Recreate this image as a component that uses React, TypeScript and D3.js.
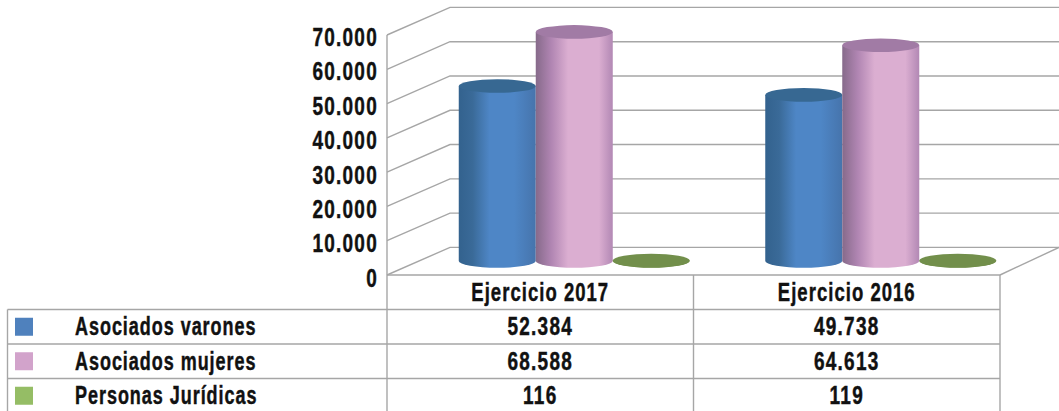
import React from "react";
import * as d3 from "d3";

const categories = ["Ejercicio 2017", "Ejercicio 2016"];
const seriesNames = ["Asociados varones", "Asociados mujeres", "Personas Jurídicas"];
const varones = [52384, 49738];
const mujeres = [68588, 64613];
const juridicas = [116, 119];
const series = [varones, mujeres, juridicas];
const swatches = ["#4F81BD", "#D2A3CB", "#95BD65"];
const tops = ["#376892", "#A17BA5", "#728F4B"];
const gradIds = ["gBlue", "gPink", "gGreen"];

const W = 1059, H = 411;
const depthX = 63, depthY = -27.6;
const font = "'Liberation Sans',sans-serif";
const fmt = d3.formatLocale({ decimal: ",", thousands: ".", grouping: [3], currency: ["", ""] }).format(",");

const yFront = d3.scaleLinear().domain([0, 70000]).range([275, 35]);
const yLabel = d3.scaleLinear().domain([0, 70000]).range([278, 37]);
const yCyl = d3.scaleLinear().domain([0, 70000]).range([261, 27.2]);
const xCat = d3.scaleBand<string>().domain(categories).range([387, 1000]);
const xSer = d3.scaleBand<number>().domain([0, 1, 2]).range([0, 231]);
const rowY = d3.scaleLinear().domain([0, 4]).range([275, 413]);
const rowLeft = 7.5;
const grid = "#A6A6A6";
const ry = 6.8;

function Txt({ x, y, dy, sx, ls, children, anchor }: any) {
  return (
    <text
      transform={`translate(${x},${y + dy}) scale(${sx},1)`}
      textAnchor={anchor}
      fontFamily={font}
      fontWeight={700}
      fontSize={25}
      fill="#111"
      stroke="#111"
      strokeWidth={0.45}
      letterSpacing={ls}
    >
      {children}
    </text>
  );
}

function Cylinder({ x, w, yTop, fill, top }: any) {
  const rx = w / 2;
  const yb = yCyl(0);
  const body = `M${x},${yTop}L${x},${yb}A${rx},${ry} 0 0 0 ${x + w},${yb}L${x + w},${yTop}Z`;
  return (
    <g>
      <path d={body} fill={fill} />
      <ellipse cx={x + rx} cy={yTop} rx={rx} ry={ry} fill={top} />
    </g>
  );
}

export default function App() {
  const ticks = yFront.ticks(7);
  const bw = xCat.bandwidth();
  return (
    <svg width={W} height={H} viewBox={`0 0 ${W} ${H}`} style={{ position: "absolute", left: 0, top: 0, display: "block", background: "#fff" }}>
      <defs>
        <linearGradient id="gBlue">
          <stop offset="0" stopColor="#33628E" />
          <stop offset="0.18" stopColor="#3A6A98" />
          <stop offset="0.4" stopColor="#4E86C6" />
          <stop offset="0.72" stopColor="#4E86C6" />
          <stop offset="1" stopColor="#4674AC" />
        </linearGradient>
        <linearGradient id="gPink">
          <stop offset="0" stopColor="#866A8A" />
          <stop offset="0.2" stopColor="#B085B2" />
          <stop offset="0.42" stopColor="#DBAED1" />
          <stop offset="0.82" stopColor="#DBAED1" />
          <stop offset="1" stopColor="#B288B4" />
        </linearGradient>
        <linearGradient id="gGreen">
          <stop offset="0" stopColor="#728F4B" />
          <stop offset="1" stopColor="#728F4B" />
        </linearGradient>
      </defs>

      {/* walls */}
      <g stroke={grid} strokeWidth={1.4} fill="none">
        {ticks.map((t) => {
          const yf = yFront(t);
          const yb = yf + depthY;
          return <path key={t} d={`M387,${yf}L${387 + depthX},${yb}L${W},${yb}`} />;
        })}
        <path d={`M1000,${yFront(0)}L${W},${yFront(0) + depthY}`} />
        <path d={`M387,${yFront(70000)}L387,${H}`} />
      </g>

      {/* cylinders */}
      {categories.map((c, i) => {
        const start = (xCat(c) as number) + bw / 2 - 115.5 + 34;
        return series.map((vals, s) => (
          <Cylinder
            key={c + s}
            x={start + (xSer(s) as number)}
            w={xSer.bandwidth()}
            yTop={yCyl(vals[i])}
            fill={`url(#${gradIds[s]})`}
            top={tops[s]}
          />
        ));
      })}

      {/* y tick labels */}
      {ticks.map((t) => (
        <Txt key={t} x={378} y={yLabel(t)} dy={8.8} sx={0.76} ls={1.65} anchor="end">{fmt(t)}</Txt>
      ))}

      {/* data table */}
      <g stroke={grid} strokeWidth={1.4} fill="none">
        <path d={`M387,${rowY(0)}L1000,${rowY(0)}`} />
        {[1, 2, 3, 4].map((r) => (
          <path key={r} d={`M${rowLeft},${rowY(r)}L1000,${rowY(r)}`} />
        ))}
        <path d={`M${rowLeft},${rowY(1)}L${rowLeft},${H}`} />
        {categories.map((c) => (
          <path key={c} d={`M${(xCat(c) as number) + bw},${rowY(0)}L${(xCat(c) as number) + bw},${H}`} />
        ))}
      </g>
      {categories.map((c) => (
        <Txt key={c} x={(xCat(c) as number) + bw / 2} y={rowY(0.5)} dy={8.5} sx={0.74} ls={1.4} anchor="middle">{c}</Txt>
      ))}
      {seriesNames.map((n, s) => {
        const cy = rowY(s + 1.5);
        return (
          <g key={n}>
            <rect x={15} y={cy - 9} width={18} height={18} fill={swatches[s]} />
            <Txt x={75} y={cy} dy={8.5} sx={0.72} ls={1.35} anchor="start">{n}</Txt>
            {categories.map((c, i) => (
              <Txt key={c} x={(xCat(c) as number) + bw / 2} y={cy} dy={8.5} sx={0.76} ls={1.65} anchor="middle">{fmt(series[s][i])}</Txt>
            ))}
          </g>
        );
      })}
    </svg>
  );
}
